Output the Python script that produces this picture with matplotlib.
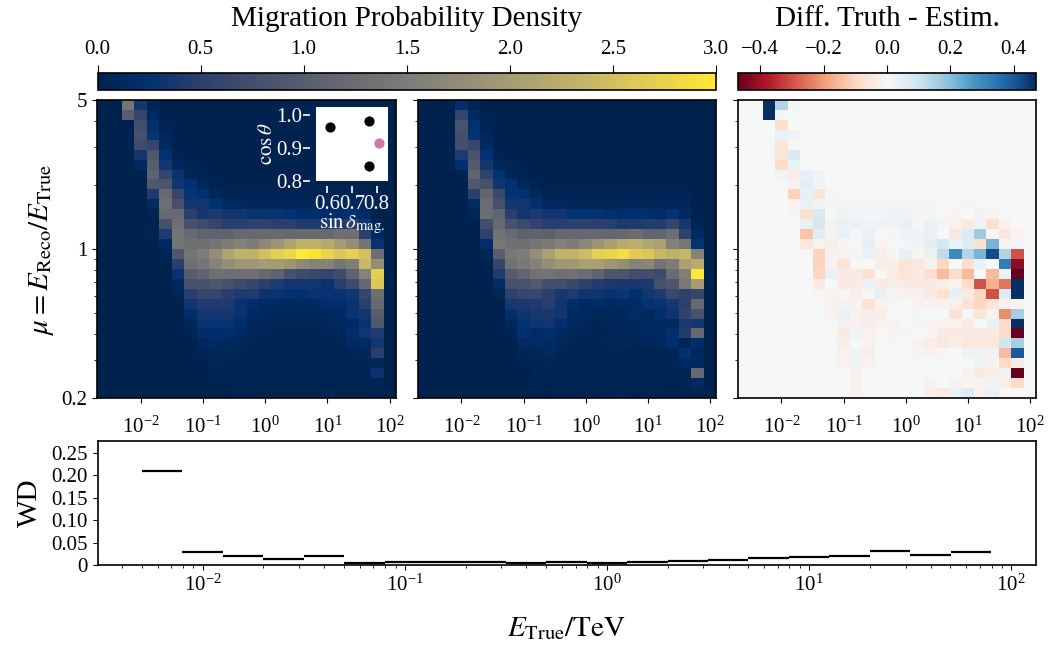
import numpy as np
import matplotlib
matplotlib.use("Agg")
import matplotlib.pyplot as plt
from matplotlib.ticker import NullLocator, NullFormatter, FixedLocator, LogLocator

plt.rcParams['font.family'] = 'Liberation Serif'
plt.rcParams['mathtext.fontset'] = 'stix'
plt.rcParams['font.size'] = 14

# energy bins in log10(E/TeV), 0.2 dex wide
log_e_lo = -2.3
n_e = 21
# reconstructed/true ratio bins (rows listed from mu=5 down to mu=0.2)
n_mu = 30

# migration density, truth (rows top->bottom, columns low->high energy)
truth = [
    [1.4, .35, .05, 0, 0, 0, 0, 0, 0, 0, 0, 0, 0, 0, 0, 0, 0, 0, 0, 0, 0],
    [1.0, .6, .15, 0, 0, 0, 0, 0, 0, 0, 0, 0, 0, 0, 0, 0, 0, 0, 0, 0, 0],
    [0, .75, .25, .05, 0, 0, 0, 0, 0, 0, 0, 0, 0, 0, 0, 0, 0, 0, 0, 0, 0],
    [0, .8, .3, .1, 0, 0, 0, 0, 0, 0, 0, 0, 0, 0, 0, 0, 0, 0, 0, 0, 0],
    [0, .7, .6, .15, 0, 0, 0, 0, 0, 0, 0, 0, 0, 0, 0, 0, 0, 0, 0, 0, 0],
    [0, .35, .9, .25, .05, 0, 0, 0, 0, 0, 0, 0, 0, 0, 0, 0, 0, 0, 0, 0, 0],
    [0, .15, 1.0, .35, .1, .05, 0, 0, 0, 0, 0, 0, 0, 0, 0, 0, 0, 0, 0, 0, 0],
    [0, 0, 1.1, .6, .3, .08, .05, 0, 0, 0, 0, 0, 0, 0, 0, 0, 0, 0, 0, 0, 0],
    [0, 0, .9, .85, .35, .25, .1, .05, 0, 0, 0, 0, 0, 0, 0, 0, 0, 0, 0, 0, 0],
    [0, 0, .4, 1.2, .6, .3, .25, .1, .05, .05, .05, .05, .05, .05, .05, .05, .05, .05, .05, .05, 0],
    [0, 0, .15, 1.3, .8, .35, .35, .25, .15, .15, .1, .1, .1, .1, .1, .1, .1, .1, .1, .1, 0],
    [0, 0, .05, 1.2, 1.2, .5, .35, .4, .35, .35, .3, .3, .3, .25, .2, .2, .2, .2, .25, .15, 0],
    [0, 0, 0, .8, 1.3, .8, .7, .6, .5, .5, .55, .55, .5, .5, .4, .4, .4, .45, .5, .35, .05],
    [0, 0, 0, .4, 1.4, 1.2, 1.1, 1.1, 1.1, 1.2, 1.2, 1.2, 1.2, 1.2, 1.2, 1.2, 1.2, 1.3, 1.3, .5, .15],
    [0, 0, 0, .15, 1.4, 1.3, 1.3, 1.4, 1.5, 1.6, 1.5, 1.7, 1.9, 2.1, 2.3, 2.3, 2.2, 2.0, 1.8, 1.4, .3],
    [0, 0, 0, .05, .9, 1.4, 1.5, 1.8, 2.1, 2.3, 2.3, 2.5, 2.7, 2.8, 3.0, 2.95, 2.75, 2.6, 2.7, 2.5, 1.3],
    [0, 0, 0, 0, .5, 1.3, 1.4, 1.6, 1.8, 1.9, 1.9, 2.0, 2.0, 1.9, 1.7, 1.6, 1.6, 1.4, 1.5, 2.4, 1.8],
    [0, 0, 0, 0, .3, 1.0, 1.1, 1.3, 1.3, 1.3, 1.3, 1.2, 1.1, .8, .7, .65, .6, .7, 1.1, 1.6, 2.7],
    [0, 0, 0, 0, .12, .8, .8, .9, .8, .7, .6, .5, .4, .35, .35, .35, .3, .5, .7, 1.2, 2.6],
    [0, 0, 0, 0, .05, .5, .6, .6, .5, .4, .4, .3, .3, .25, .25, .3, .3, .3, .35, .6, 1.3],
    [0, 0, 0, 0, 0, .35, .4, .4, .4, .3, .2, .15, .15, .12, .15, .15, .2, .2, .3, .5, 1.2],
    [0, 0, 0, 0, 0, .2, .35, .35, .35, .3, .15, .12, .1, .1, .1, .1, .12, .15, .3, .35, 1.0],
    [0, 0, 0, 0, 0, .1, .3, .3, .3, .2, .1, .1, .08, .08, .08, .08, .1, .12, .15, .3, .9],
    [0, 0, 0, 0, 0, .05, .2, .2, .2, .15, .08, .07, .06, .06, .06, .06, .08, .08, .2, .35, .4],
    [0, 0, 0, 0, 0, 0, .1, .15, .12, .1, .06, .05, .05, .05, .05, .05, .05, .07, .15, .15, .35],
    [0, 0, 0, 0, 0, 0, .05, .1, .08, .07, .05, .05, .04, .04, .04, .04, .04, .05, .08, .1, .5],
    [0, 0, 0, 0, 0, 0, 0, .08, .05, .05, .04, .04, .03, .03, .03, .03, .03, .04, .05, .06, .08],
    [0, 0, 0, 0, 0, 0, 0, .05, .05, .04, .03, .03, .03, .03, .03, .03, .03, .03, .04, .05, .3],
    [0, 0, 0, 0, 0, 0, 0, 0, .03, .03, .02, .02, .02, .02, .02, .02, .02, .02, .02, .02, .05],
    [0, 0, 0, 0, 0, 0, 0, 0, 0, .02, .02, .02, .02, .02, .02, .02, .08, .02, .02, .02, .05],
]

# truth minus estimate, same layout
diff = [
    [1.4, .14, .01, 0, 0, 0, 0, 0, 0, 0, 0, 0, 0, 0, 0, 0, 0, 0, 0, 0, 0],
    [1.0, .01, 0, 0, 0, 0, 0, 0, 0, 0, 0, 0, 0, 0, 0, 0, 0, 0, 0, 0, 0],
    [0, -.08, 0, 0, 0, 0, 0, 0, 0, 0, 0, 0, 0, 0, 0, 0, 0, 0, 0, 0, 0],
    [0, .03, .02, 0, 0, 0, 0, 0, 0, 0, 0, 0, 0, 0, 0, 0, 0, 0, 0, 0, 0],
    [0, -.06, 0, 0, 0, 0, 0, 0, 0, 0, 0, 0, 0, 0, 0, 0, 0, 0, 0, 0, 0],
    [0, -.06, .07, 0, 0, 0, 0, 0, 0, 0, 0, 0, 0, 0, 0, 0, 0, 0, 0, 0, 0],
    [0, -.09, .03, 0, 0, 0, 0, 0, 0, 0, 0, 0, 0, 0, 0, 0, 0, 0, 0, 0, 0],
    [0, .02, -.04, .04, .02, 0, 0, 0, 0, 0, 0, 0, 0, 0, 0, 0, 0, 0, 0, 0, 0],
    [0, .01, -.02, .05, .02, 0, 0, 0, 0, 0, 0, 0, 0, 0, 0, 0, 0, 0, 0, 0, 0],
    [0, 0, -.11, .04, -.06, .01, 0, 0, 0, 0, 0, 0, 0, 0, 0, 0, 0, 0, 0, 0, 0],
    [0, 0, -.02, .03, .02, .01, .01, .01, .01, .01, .01, .01, .01, .01, 0, 0, .01, 0, 0, 0, 0],
    [0, 0, -.01, -.08, .07, 0, .02, .01, .01, .01, .02, .02, .01, .01, 0, -.01, 0, .02, -.02, 0, 0],
    [0, 0, 0, .04, .08, -.02, .03, .03, .02, .02, .02, .03, .01, .03, .01, -.02, -.04, .02, -.08, -.02, 0],
    [0, 0, 0, -.13, .05, -.02, .04, .01, .03, 0, .01, .02, .02, .03, 0, -.05, .06, .17, -.01, -.05, -.02],
    [0, 0, 0, -.05, -.02, -.03, .01, 0, .04, -.01, 0, .01, .02, .05, .08, .03, .06, -.08, .22, -.01, .01],
    [0, 0, 0, -.01, -.11, -.02, -.02, .01, .03, -.03, -.01, .04, -.01, .03, .12, .3, .14, .22, .42, .14, -.3],
    [0, 0, 0, 0, -.11, -.02, -.06, 0, 0, -.03, -.03, -.06, -.05, -.02, -.1, 0, -.08, .03, 0, .33, -.42],
    [0, 0, 0, 0, -.1, .03, -.04, -.04, -.07, 0, -.04, -.06, -.04, -.08, -.15, -.09, -.15, 0, -.15, .03, -.6],
    [0, 0, 0, 0, -.04, 0, -.04, -.04, .03, -.04, -.03, -.04, -.04, -.04, -.03, -.02, -.09, -.3, -.17, -.25, .6],
    [0, 0, 0, 0, -.01, -.02, -.01, -.03, .01, .04, -.01, -.02, -.02, -.04, -.07, .04, -.04, -.1, -.3, .06, .7],
    [0, 0, 0, 0, 0, -.02, .02, -.02, -.07, -.02, .01, 0, -.02, -.02, -.02, -.02, -.07, -.1, -.06, -.02, -.02],
    [0, 0, 0, 0, 0, -.02, .03, -.02, -.03, -.03, 0, 0, .01, 0, 0, -.07, .01, -.06, -.02, -.22, .16],
    [0, 0, 0, 0, 0, 0, .02, -.02, -.03, -.02, -.02, 0, .01, -.02, -.02, -.02, -.04, 0, .03, -.09, .55],
    [0, 0, 0, 0, 0, 0, -.04, .02, -.02, 0, -.01, .01, 0, -.01, -.04, -.04, -.04, -.04, -.04, -.09, -.8],
    [0, 0, 0, 0, 0, 0, -.03, 0, -.02, 0, -.01, 0, -.02, -.03, -.05, -.03, -.05, -.04, -.05, .09, .16],
    [0, 0, 0, 0, 0, 0, -.02, .02, -.03, 0, 0, 0, .01, -.02, -.01, 0, .02, .02, .02, -.15, .4],
    [0, 0, 0, 0, 0, 0, -.02, .02, -.02, 0, 0, 0, 0, 0, 0, 0, 0, .02, -.02, -.09, -.04],
    [0, 0, 0, 0, 0, 0, 0, -.02, 0, 0, 0, 0, 0, 0, 0, 0, -.02, -.04, -.03, .02, -.9],
    [0, 0, 0, 0, 0, 0, 0, -.02, 0, 0, 0, 0, 0, -.02, 0, -.02, -.01, -.02, .02, -.03, -.09],
    [0, 0, 0, 0, 0, 0, 0, -.02, 0, 0, 0, 0, 0, -.03, -.04, .03, .06, -.02, .03, 0, 0],
]

# Wasserstein distance per energy bin
wd = [0.209, 0.029, 0.019, 0.014, 0.019, 0.0045, 0.0075, 0.006, 0.0075, 0.0045,
      0.006, 0.004, 0.006, 0.008, 0.011, 0.016, 0.017, 0.019, 0.031, 0.023, 0.029]

# inset: sampled parameter points
sin_delta = [0.612, 0.77, 0.77]
cos_theta = [0.963, 0.984, 0.845]
sin_delta_eval = [0.808]
cos_theta_eval = [0.914]

e_edges = 10 ** (log_e_lo + 0.2 * np.arange(n_e + 1))
mu_edges = np.logspace(np.log10(0.2), np.log10(5), n_mu + 1)

truth_arr = np.array(truth)[::-1]
diff_arr = np.array(diff)[::-1]
estim_arr = np.clip(truth_arr - diff_arr, 0, None)

fig = plt.figure(figsize=(10.54, 6.51), dpi=100)
W, H = 1054, 651


def box(x0, y0, x1, y1):
    return [x0 / W, 1 - y1 / H, (x1 - x0) / W, (y1 - y0) / H]


ax1 = fig.add_axes(box(97, 100, 396, 398))
ax2 = fig.add_axes(box(418, 100, 716, 398))
ax3 = fig.add_axes(box(738, 100, 1036, 398))
axb = fig.add_axes(box(97.5, 441, 1035.5, 565))
cax1 = fig.add_axes(box(97.5, 73, 716, 90))
cax2 = fig.add_axes(box(738, 73, 1036, 90))

cmap_m = plt.get_cmap('cividis')
cmap_d = plt.get_cmap('RdBu')
dlim = 0.47

m1 = ax1.pcolormesh(e_edges, mu_edges, truth_arr, cmap=cmap_m, vmin=0, vmax=3)
ax2.pcolormesh(e_edges, mu_edges, estim_arr, cmap=cmap_m, vmin=0, vmax=3)
m3 = ax3.pcolormesh(e_edges, mu_edges, diff_arr, cmap=cmap_d, vmin=-dlim, vmax=dlim)
ax1.set_facecolor(cmap_m(0.0))
ax2.set_facecolor(cmap_m(0.0))
ax3.set_facecolor(cmap_d(0.5))

for ax in (ax1, ax2, ax3):
    ax.set_xscale('log')
    ax.set_yscale('log')
    ax.set_xlim(10 ** -2.7, 10 ** 2.1)
    ax.set_ylim(0.2, 5)
    ax.xaxis.set_major_locator(FixedLocator([1e-2, 1e-1, 1e0, 1e1, 1e2]))
    ax.xaxis.set_minor_locator(NullLocator())
    ax.yaxis.set_major_locator(FixedLocator([0.2, 1, 5]))
    ax.yaxis.set_minor_locator(LogLocator(subs=np.arange(2, 10)))
    ax.yaxis.set_minor_formatter(NullFormatter())
    ax.tick_params(labelsize=15)
    ax.tick_params(axis='x', pad=10)
ax1.set_yticklabels(['0.2', '1', '5'])
ax2.set_yticklabels([])
ax3.set_yticklabels([])
ax1.set_ylabel(r'$\mu = E_\mathrm{Reco}/E_\mathrm{True}$', fontsize=21, labelpad=4)

# colorbars on top
cb1 = fig.colorbar(m1, cax=cax1, orientation='horizontal')
cb1.set_ticks([0, 0.5, 1.0, 1.5, 2.0, 2.5, 3.0])
cb1.set_ticklabels(['0.0', '0.5', '1.0', '1.5', '2.0', '2.5', '3.0'])
cb2 = fig.colorbar(m3, cax=cax2, orientation='horizontal')
cb2.set_ticks([-0.4, -0.2, 0.0, 0.2, 0.4])
cb2.set_ticklabels(['\u22120.4', '\u22120.2', '0.0', '0.2', '0.4'])
for cax, title in ((cax1, 'Migration Probability Density'), (cax2, 'Diff. Truth - Estim.')):
    cax.xaxis.set_ticks_position('top')
    cax.xaxis.set_label_position('top')
    cax.tick_params(labelsize=15, length=6, pad=4)
    cax.set_xlabel(title, fontsize=21, labelpad=10)

# parameter-space inset
ins = ax1.inset_axes([0.732, 0.729, 0.24, 0.247])
ins.set_facecolor('white')
ins.scatter(sin_delta, cos_theta, s=40, color='black', zorder=3)
ins.scatter(sin_delta_eval, cos_theta_eval, s=40, color='#cc79a7', zorder=3)
ins.set_xlim(0.554, 0.845)
ins.set_ylim(0.8, 1.025)
ins.set_xticks([0.6, 0.7, 0.8])
ins.set_xticklabels(['0.6', '0.7', '0.8'])
ins.set_yticks([0.8, 0.9, 1.0])
ins.set_yticklabels(['0.8', '0.9', '1.0'])
for side in ('left', 'bottom'):
    ins.spines[side].set_position(('outward', 4))
for s in ins.spines.values():
    s.set_visible(False)
ins.tick_params(colors='white', labelcolor='white', labelsize=15, length=5, width=1.2, pad=1)
ins.set_xlabel(r'$\sin\delta_\mathrm{mag.}$', color='white', fontsize=15, labelpad=-1)
ins.set_ylabel(r'$\cos\theta$', color='white', fontsize=15, labelpad=-1)

# Wasserstein distance per energy bin
axb.hlines(wd, e_edges[:-1], e_edges[1:], color='black', lw=1.6)
axb.set_xscale('log')
axb.set_xlim(10 ** -2.52, 10 ** 2.12)
axb.set_ylim(0, 0.276)
axb.set_yticks([0, 0.05, 0.10, 0.15, 0.20, 0.25])
axb.set_yticklabels(['0', '0.05', '0.10', '0.15', '0.20', '0.25'])
axb.xaxis.set_major_locator(FixedLocator([1e-2, 1e-1, 1e0, 1e1, 1e2]))
axb.xaxis.set_minor_locator(LogLocator(subs=np.arange(2, 10)))
axb.xaxis.set_minor_formatter(NullFormatter())
axb.tick_params(labelsize=15)
axb.set_ylabel('WD', fontsize=21, labelpad=6)
axb.set_xlabel(r'$E_\mathrm{True}/\mathrm{TeV}$', fontsize=21, labelpad=14)

for ax in (ax1, ax2, ax3, axb, cax1, cax2):
    for s in ax.spines.values():
        s.set_linewidth(1.2)

fig.savefig('out.png', dpi=100)
